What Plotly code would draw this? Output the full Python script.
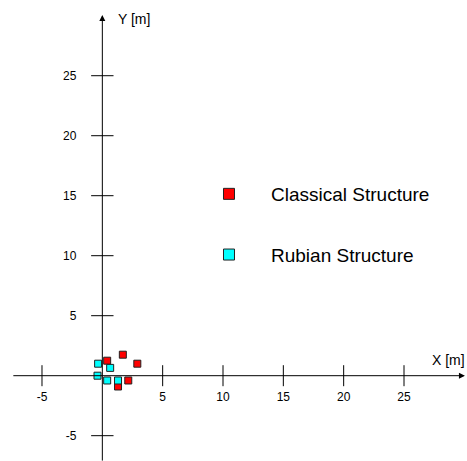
import plotly.graph_objects as go

# Data (metres)
classical_x = [1.7, 2.9, 0.4, 2.15, 1.3]
classical_y = [1.75, 1.0, 1.25, -0.4, -0.9]
rubian_x = [-0.35, 0.65, -0.4, 0.4, 1.3]
rubian_y = [1.0, 0.65, 0.0, -0.4, -0.4]

x_ticks = [-5, 5, 10, 15, 20, 25]
y_ticks = [-5, 5, 10, 15, 20, 25]
x_tick_labels = [str(v) for v in x_ticks]
y_tick_labels = [str(v) for v in y_ticks]

XR = [-8.48, 30.22]
YR = [-7.11, 31.31]
FONT = "Liberation Sans, Arial, sans-serif"

fig = go.Figure()

# tick crossbars
fig.add_trace(go.Scatter(x=x_ticks, y=[0] * len(x_ticks), mode="markers",
                         marker=dict(symbol="line-ns", size=15, line=dict(width=1, color="#000")),
                         showlegend=False, hoverinfo="skip"))
fig.add_trace(go.Scatter(x=[0] * len(y_ticks), y=y_ticks, mode="markers",
                         marker=dict(symbol="line-ew", size=16, line=dict(width=1, color="#000")),
                         showlegend=False, hoverinfo="skip"))

mk_line = dict(width=1, color="#222")
fig.add_trace(go.Scatter(x=classical_x, y=classical_y, mode="markers",
                         marker=dict(symbol="square", size=7, color="#FF0000", line=mk_line),
                         showlegend=False))
fig.add_trace(go.Scatter(x=rubian_x, y=rubian_y, mode="markers",
                         marker=dict(symbol="square", size=7, color="#00FFFF", line=mk_line),
                         showlegend=False))

# legend entries
fig.add_trace(go.Scatter(x=[None], y=[None], mode="markers", name="Classical Structure",
                         legendgroup="a",
                         marker=dict(symbol="square", size=11, color="#FF0000", line=mk_line)))
fig.add_trace(go.Scatter(x=[None], y=[None], mode="markers", name="Rubian Structure",
                         legendgroup="b",
                         marker=dict(symbol="square", size=11, color="#00FFFF", line=mk_line)))

x0p = (0 - XR[0]) / (XR[1] - XR[0])
y0p = (0 - YR[0]) / (YR[1] - YR[0])

# axis arrows
fig.add_annotation(x=30.05, y=0, ax=-7.5, ay=0, xref="x", yref="y", axref="x", ayref="y",
                   showarrow=True, arrowhead=2, arrowsize=1.2, arrowwidth=1, arrowcolor="#000", text="")
fig.add_annotation(x=0, y=30.06, ax=0, ay=-7.2, xref="x", yref="y", axref="x", ayref="y",
                   showarrow=True, arrowhead=2, arrowsize=1.2, arrowwidth=1, arrowcolor="#000", text="")
fig.add_annotation(x=1.0, y=0.0, xref="paper", yref="y", text="X [m]", showarrow=False,
                   xanchor="right", yanchor="bottom", yshift=6,
                   font=dict(size=14, color="#000", family=FONT))
fig.add_annotation(x=1.1, y=29.7, xref="x", yref="y", text="Y [m]", showarrow=False,
                   xanchor="left", yanchor="middle", font=dict(size=14, color="#000", family=FONT))

fig.update_layout(
    width=467, height=461,
    margin=dict(l=0, r=0, t=0, b=0, autoexpand=False),
    paper_bgcolor="white", plot_bgcolor="white",
    font=dict(family=FONT, color="#000", size=12),
    xaxis=dict(range=XR, showgrid=False, zeroline=False, showline=False,
               tickvals=x_ticks, ticktext=x_tick_labels, ticks="",
               anchor="free", position=y0p, ticklabelstandoff=12, automargin=False,
               tickfont=dict(size=12, family=FONT)),
    yaxis=dict(range=YR, showgrid=False, zeroline=False, showline=False,
               tickvals=y_ticks, ticktext=y_tick_labels, ticks="",
               anchor="free", position=x0p, ticklabelstandoff=26, automargin=False,
               tickfont=dict(size=12, family=FONT)),
    showlegend=True,
    legend=dict(x=0.4004, y=0.6204, xanchor="left", yanchor="top",
                font=dict(size=19, family=FONT, color="#000"),
                tracegroupgap=33, itemwidth=74, bgcolor="rgba(0,0,0,0)"),
)

fig.write_html("out.html", config={"displayModeBar": False},
               post_script="document.body.style.margin='0';")
